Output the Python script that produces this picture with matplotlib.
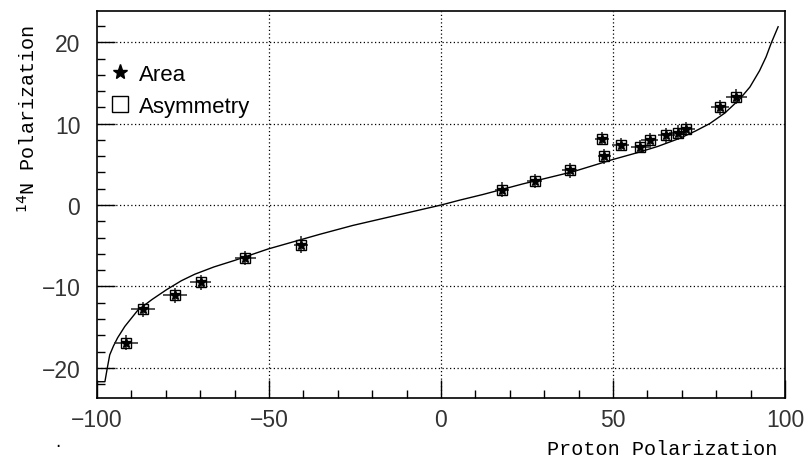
import matplotlib
matplotlib.use("Agg")
import matplotlib.pyplot as plt
from matplotlib.ticker import MultipleLocator, FixedLocator
from matplotlib.lines import Line2D

# Data points (proton polarization vs 14N polarization)
proton_pol = [-91.7, -86.6, -77.4, -69.9, -56.9, -40.6, 17.8, 27.3, 37.4,
              46.9, 47.5, 52.2, 57.8, 60.7, 65.5, 68.9, 71.3, 81.2, 85.9]
n14_pol = [-16.9, -12.8, -11.1, -9.5, -6.5, -4.85, 1.9, 2.95, 4.25,
           8.15, 6.0, 7.4, 7.15, 7.95, 8.55, 8.9, 9.35, 12.0, 13.3]
proton_err = [3.5, 3.6, 3.5, 3.0, 3.0, 2.0, 2.0, 2.2, 2.2,
              2.0, 2.0, 2.5, 2.7, 2.5, 2.4, 2.5, 2.5, 2.6, 3.1]
n14_err = [0.9, 0.9, 0.9, 0.9, 0.9, 1.0, 0.9, 0.9, 0.9,
           0.8, 0.9, 0.8, 0.8, 0.9, 0.9, 0.9, 0.8, 0.9, 0.9]

# Theory curve (equal spin temperature)
curve_x = [-100.0, -97.7, -97.0, -96.3, -95.2, -94.0, -91.9, -88.1, -84.0, -79.8,
           -75.5, -71.6, -66.0, -60.0, -50.3, -35.3, -25.6, -7.2, 0.0, 5.4, 12.2, 23.8,
           38.4, 50.0, 56.8, 63.0, 69.4, 74.0, 78.1, 82.5, 86.8, 89.8,
           92.6, 94.5, 96.0, 97.1, 98.0]
curve_y = [-21.7, -21.7, -20.0, -18.4, -17.3, -16.3, -14.9, -12.9, -11.6, -10.4,
           -9.3, -8.5, -7.6, -6.8, -5.4, -3.6, -2.5, -0.7, 0.0, 0.6, 1.3, 2.6,
           4.1, 5.6, 6.4, 7.2, 8.2, 9.1, 10.0, 11.3, 13.0, 14.5,
           16.5, 18.2, 19.9, 21.0, 21.9]

x_major = [-100, -50, 0, 50, 100]
y_major = [-20, -10, 0, 10, 20]
legend_labels = ["Area", "Asymmetry"]

fig = plt.figure(figsize=(8.12, 4.6), dpi=100)
ax = fig.add_axes([97/812, 1-399/460, (785-97)/812, (399-12.3)/460])

ax.set_xlim(-100, 100)
ax.set_ylim(-23.7, 23.8)

# grid (dotted) at inner major ticks
for gx in x_major[1:-1]:
    ax.axvline(gx, color='black', linestyle=(0, (1, 2)), linewidth=0.9, zorder=0)
for gy in y_major:
    ax.axhline(gy, color='black', linestyle=(0, (1, 2)), linewidth=0.9, zorder=0)

ax.plot(curve_x, curve_y, color='black', linewidth=1.0, zorder=2)

ax.errorbar(proton_pol, n14_pol, xerr=proton_err, yerr=n14_err, fmt='none',
            ecolor='#222222', elinewidth=1.1, capsize=0, zorder=3)
ax.plot(proton_pol, n14_pol, linestyle='none', marker='s', markersize=6.5,
        markerfacecolor='none', markeredgecolor='black', markeredgewidth=1.0, zorder=4)
ax.plot(proton_pol, n14_pol, linestyle='none', marker='*', markersize=7,
        color='black', zorder=5)

ax.xaxis.set_major_locator(FixedLocator(x_major))
ax.yaxis.set_major_locator(FixedLocator(y_major))
ax.xaxis.set_minor_locator(MultipleLocator(10))
ax.yaxis.set_minor_locator(MultipleLocator(2))
ax.tick_params(which='both', direction='in', top=False, right=False, width=1.0, color='black')
ax.tick_params(which='major', length=13)
ax.tick_params(which='minor', length=5.5)
ax.tick_params(axis='x', which='major', pad=7)
ax.tick_params(axis='y', which='major', pad=12)

def fmt(v):
    return ('\u2212' + str(abs(v))) if v < 0 else str(v)

ax.set_xticklabels([fmt(v) for v in x_major], fontsize=16.5, family='Liberation Sans', color='#333333')
ax.set_yticklabels([fmt(v) for v in y_major], fontsize=16.5, family='Liberation Sans', color='#333333')

for sp in ax.spines.values():
    sp.set_linewidth(1.2)

handles = [Line2D([], [], linestyle='none', marker='*', markersize=11, color='black'),
           Line2D([], [], linestyle='none', marker='s', markersize=11,
                  markerfacecolor='none', markeredgecolor='black', markeredgewidth=1.0)]
ax.legend(handles, legend_labels, loc='upper left', bbox_to_anchor=(-0.008, 0.905),
          frameon=False, handletextpad=0.25, labelspacing=0.5, borderaxespad=0.3,
          prop={'family': 'Liberation Sans', 'size': 16}, handlelength=1.2)

fig.text(777/812, 1-450/460, 'Proton Polarization', family='Liberation Mono',
         fontsize=14.5, ha='right', va='center')
fig.text(28/812, 1-25/460, r'$^{14}$N Polarization', family='Liberation Mono',
         fontsize=14.5, rotation=90, ha='center', va='top')
fig.text(58/812, 1-451/460, '.', fontsize=12, ha='center', va='bottom')

fig.savefig('out.png', dpi=100)
